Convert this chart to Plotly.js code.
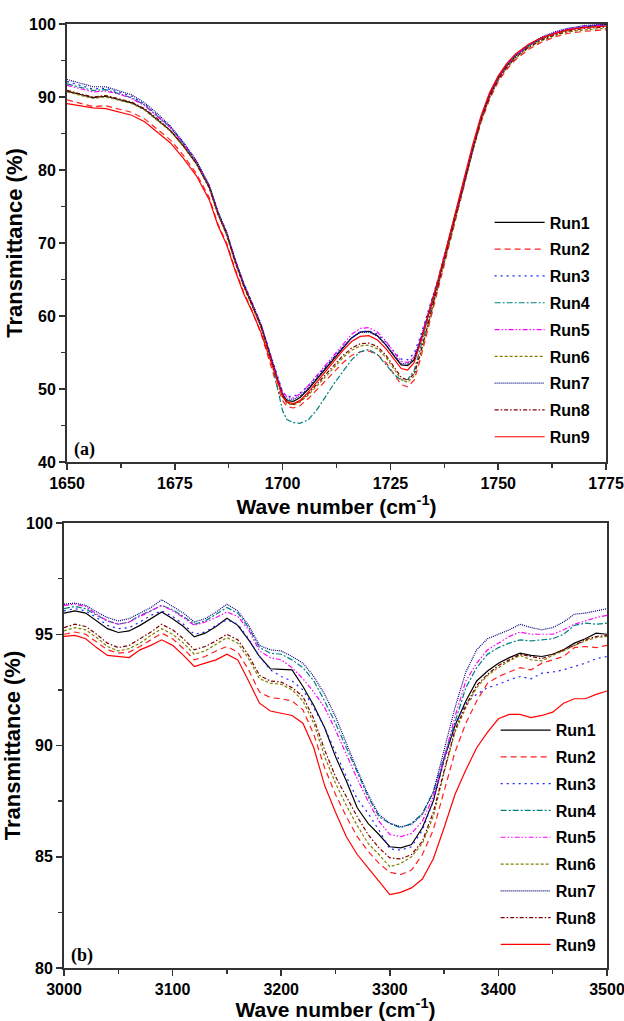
<!DOCTYPE html>
<html>
<head>
<meta charset="utf-8">
<script src="https://cdn.plot.ly/plotly-3.0.1.min.js"></script>
<style>html,body{margin:0;padding:0;background:#fff}#chart{width:624px;height:1021px}</style>
</head>
<body>
<div id="chart"></div>
<script>
// ---------- Panel (a): 1650-1775 cm-1 ----------
const waveA = [1650,1653,1656,1659,1662,1665,1668,1671,1674,1677,1680,1683,1685,1687,1689,1691,1693,1695,1697,1698.5,1700,1701,1702.5,1704,1706,1708,1710,1712,1714,1716,1718,1720,1722,1724,1726,1727.5,1729,1730.5,1732,1734,1736,1738,1740,1742,1744,1746,1748,1750,1752,1754,1757,1760,1763,1766,1770,1775];
const a_run1 = [90.8,90.4,89.9,90.1,89.7,89.2,88.3,86.9,85.4,83.3,80.9,77.6,74.0,71.3,67.5,64.2,61.5,58.6,54.8,51.8,49.2,48.4,48.3,48.8,50.0,51.4,52.8,54.3,55.7,57.0,57.8,57.9,57.3,56.0,54.4,53.3,53.2,54.0,56.5,60.5,64.5,69.0,73.5,78.0,82.8,87.0,90.2,92.6,94.3,95.6,97.0,98.0,98.7,99.2,99.6,99.9];
const a_run2 = [89.6,89.2,88.7,88.8,88.4,87.9,87.0,85.6,84.1,82.0,79.5,76.2,72.6,70.0,66.4,63.2,60.6,57.6,53.8,50.8,48.4,47.6,47.4,47.7,48.7,49.9,51.1,52.4,53.6,54.6,55.1,55.2,54.7,53.6,51.9,50.6,50.3,51.2,54.2,58.8,63.4,68.2,72.9,77.6,82.4,86.5,89.7,92.1,93.8,95.1,96.5,97.5,98.2,98.7,99.0,99.2];
const a_run3 = [92.1,91.6,91.1,91.2,90.7,90.1,89.0,87.5,85.9,83.7,81.2,77.8,74.3,71.5,67.8,64.5,61.8,58.9,55.1,52.2,49.6,49.0,49.0,49.4,50.5,51.8,53.1,54.5,55.8,57.0,57.8,58.0,57.5,56.4,55.0,54.1,54.0,54.9,57.3,61.2,65.0,69.4,73.8,78.2,82.9,87.0,90.2,92.6,94.3,95.6,97.0,98.0,98.7,99.3,99.7,99.9];
const a_run4 = [91.8,91.4,90.9,91.0,90.5,89.9,88.9,87.4,85.8,83.6,81.1,77.8,74.2,71.4,67.6,64.3,61.6,58.7,54.8,51.0,47.0,45.8,45.4,45.3,45.8,47.2,49.0,50.8,52.4,54.0,55.1,55.4,54.7,53.3,51.9,51.2,51.3,52.5,55.6,59.9,64.2,68.8,73.4,78.0,82.8,87.0,90.2,92.6,94.3,95.6,97.0,98.0,98.7,99.2,99.6,99.8];
const a_run5 = [91.6,91.2,90.7,90.8,90.4,89.8,88.8,87.3,85.8,83.6,81.1,77.8,74.2,71.4,67.7,64.4,61.7,58.8,55.0,52.1,49.6,48.9,48.8,49.3,50.5,51.9,53.3,54.8,56.2,57.5,58.3,58.4,57.8,56.5,54.9,53.8,53.6,54.4,56.9,60.8,64.8,69.2,73.7,78.2,82.9,87.1,90.3,92.7,94.4,95.7,97.1,98.1,98.8,99.3,99.7,99.9];
const a_run6 = [90.7,90.3,89.8,90.0,89.6,89.1,88.2,86.8,85.3,83.2,80.8,77.5,73.9,71.1,67.3,64.0,61.3,58.4,54.6,51.5,48.9,48.0,47.8,48.2,49.2,50.4,51.7,53.0,54.3,55.3,55.9,56.0,55.5,54.3,52.6,51.3,50.9,51.8,54.8,59.3,63.8,68.5,73.2,77.8,82.6,86.7,89.9,92.3,94.0,95.3,96.7,97.7,98.4,98.9,99.2,99.4];
const a_run7 = [92.4,91.9,91.4,91.4,90.9,90.3,89.2,87.7,86.0,83.8,81.3,77.9,74.3,71.5,67.7,64.4,61.7,58.8,55.0,52.0,49.3,48.6,48.6,49.0,50.2,51.6,53.0,54.4,55.8,57.0,57.8,57.8,57.2,56.0,54.5,53.5,53.4,54.3,56.8,60.8,64.8,69.3,73.8,78.3,83.0,87.2,90.4,92.8,94.5,95.8,97.2,98.2,98.9,99.4,99.8,100.0];
const a_run8 = [90.9,90.5,90.0,90.2,89.8,89.3,88.4,87.0,85.4,83.3,80.9,77.6,74.0,71.2,67.4,64.1,61.4,58.5,54.7,51.6,49.0,48.1,47.9,48.3,49.4,50.7,52.0,53.3,54.6,55.6,56.2,56.3,55.8,54.6,52.9,51.6,51.2,52.1,55.0,59.5,64.0,68.6,73.3,77.9,82.7,86.8,90.0,92.4,94.1,95.4,96.8,97.8,98.5,99.0,99.4,99.6];
const a_run9 = [89.1,88.8,88.5,88.4,88.0,87.5,86.6,85.2,83.7,81.6,79.2,75.9,72.4,69.8,66.2,63.0,60.5,57.7,54.2,51.4,49.0,48.2,48.0,48.4,49.6,51.0,52.4,53.9,55.3,56.5,57.2,57.3,56.7,55.5,53.9,52.8,52.6,53.6,56.4,60.6,64.8,69.4,74.0,78.6,83.3,87.4,90.6,92.9,94.6,95.9,97.2,98.1,98.7,99.2,99.5,99.7];

// ---------- Panel (b): 3000-3500 cm-1 ----------
const waveB = [3000,3010,3020,3030,3040,3050,3060,3070,3080,3090,3100,3110,3120,3130,3140,3150,3160,3170,3180,3190,3200,3210,3220,3230,3240,3250,3260,3270,3280,3290,3300,3310,3320,3330,3340,3350,3360,3370,3380,3390,3400,3410,3420,3430,3440,3450,3460,3470,3480,3490,3500];
const b_run1 = [95.95,96.05,95.95,95.6,95.25,95.08,95.15,95.4,95.7,96.0,95.7,95.35,94.88,95.05,95.35,95.72,95.4,94.75,94.0,93.45,93.42,93.4,92.65,91.8,90.8,89.5,88.4,87.2,86.5,86.0,85.45,85.4,85.55,86.3,87.5,89.4,90.9,92.0,92.9,93.35,93.7,93.95,94.15,94.05,94.0,94.1,94.3,94.6,94.8,95.05,95.0];
const b_run2 = [95.0,95.1,95.0,94.65,94.3,94.15,94.2,94.45,94.75,95.05,94.8,94.35,93.85,94.0,94.25,94.45,94.2,93.4,92.4,92.15,92.1,92.0,91.6,90.5,89.0,87.8,86.8,85.9,85.25,84.7,84.3,84.2,84.4,85.1,86.2,87.9,89.7,91.0,92.0,92.8,93.1,93.3,93.5,93.4,93.7,93.85,94.0,94.4,94.45,94.4,94.5];
const b_run3 = [96.05,96.15,96.05,95.75,95.4,95.25,95.3,95.55,95.85,96.05,95.8,95.45,95.0,95.1,95.4,95.65,95.45,94.8,94.0,93.4,93.1,92.9,92.5,91.7,90.8,89.7,88.6,87.6,86.95,86.2,85.35,85.3,85.45,86.2,87.5,89.3,90.9,91.9,92.3,92.6,92.75,92.95,93.1,93.0,93.25,93.3,93.4,93.55,93.7,93.9,94.0];
const b_run4 = [96.15,96.25,96.15,95.85,95.6,95.45,95.55,95.85,96.05,96.3,96.1,95.8,95.45,95.6,95.9,96.2,95.95,95.3,94.4,94.15,94.1,93.85,93.5,92.9,92.0,91.0,89.9,88.8,87.7,86.8,86.5,86.3,86.5,86.95,87.9,89.5,91.1,92.6,93.5,94.1,94.4,94.6,94.75,94.7,94.75,94.8,95.0,95.4,95.5,95.45,95.5];
const b_run5 = [96.3,96.35,96.25,95.9,95.6,95.45,95.55,95.8,96.05,96.3,96.05,95.75,95.4,95.55,95.75,96.0,95.8,95.2,94.25,93.95,93.85,93.5,93.0,92.4,91.7,90.7,89.6,88.5,87.5,86.6,86.0,85.9,86.05,86.6,87.7,89.4,91.3,92.9,93.7,94.3,94.6,94.9,95.1,95.0,95.0,95.0,95.2,95.45,95.6,95.75,95.85];
const b_run6 = [95.15,95.3,95.2,94.85,94.45,94.25,94.35,94.6,94.95,95.25,95.0,94.6,94.1,94.25,94.55,94.85,94.6,93.9,93.0,92.8,92.75,92.5,92.0,91.0,89.5,88.3,87.3,86.4,85.6,85.1,84.55,84.7,85.0,85.6,86.8,88.8,90.6,91.7,92.6,93.15,93.5,93.8,94.05,93.85,93.8,94.05,94.25,94.5,94.7,94.85,94.9];
const b_run7 = [96.35,96.4,96.3,96.0,95.75,95.6,95.7,95.95,96.2,96.55,96.25,95.95,95.55,95.7,96.0,96.35,96.05,95.4,94.5,94.3,94.25,94.0,93.7,93.1,92.3,91.3,90.1,88.9,87.8,86.9,86.5,86.35,86.45,86.9,87.9,89.8,91.7,93.3,94.3,94.8,95.0,95.2,95.45,95.3,95.2,95.3,95.55,95.9,95.95,96.05,96.15];
const b_run8 = [95.3,95.45,95.35,95.0,94.6,94.4,94.5,94.8,95.1,95.45,95.2,94.8,94.3,94.45,94.7,95.0,94.75,94.05,93.15,92.9,92.85,92.6,92.2,91.2,89.8,88.6,87.7,86.8,86.0,85.4,84.95,84.9,85.1,85.7,87.0,88.9,90.7,91.8,92.7,93.2,93.6,93.85,94.1,94.0,93.9,94.1,94.3,94.5,94.75,94.9,94.95];
const b_run9 = [94.9,94.95,94.8,94.4,94.05,94.0,93.95,94.3,94.5,94.75,94.5,94.05,93.55,93.7,93.85,94.1,93.85,92.9,91.9,91.55,91.45,91.35,91.0,89.9,88.2,87.0,85.9,85.1,84.5,83.9,83.3,83.4,83.6,84.0,84.9,86.3,87.8,88.9,89.9,90.6,91.2,91.4,91.4,91.25,91.35,91.5,91.9,92.1,92.1,92.3,92.45];

const runNames = ["Run1","Run2","Run3","Run4","Run5","Run6","Run7","Run8","Run9"];
const seriesA = [a_run1,a_run2,a_run3,a_run4,a_run5,a_run6,a_run7,a_run8,a_run9];
const seriesB = [b_run1,b_run2,b_run3,b_run4,b_run5,b_run6,b_run7,b_run8,b_run9];

// styles (not data)
const styles = [
  {color:"#000000", dash:"solid"},
  {color:"#ff2020", dash:"6px,4px"},
  {color:"#2020ff", dash:"2px,4px"},
  {color:"#008080", dash:"6px,2px,2px,2px"},
  {color:"#ff00ff", dash:"5px,2px,1.5px,2px,1.5px,2px"},
  {color:"#808000", dash:"3px,2px"},
  {color:"#000080", dash:"1px,1px"},
  {color:"#800000", dash:"4px,2px,1.5px,2px"},
  {color:"#ff0000", dash:"solid"}
];

const traces = [];
runNames.forEach((name,i)=>{
  traces.push({type:"scatter",mode:"lines",name:name,x:waveA,y:seriesA[i],xaxis:"x",yaxis:"y",
    legend:"legend",legendgroup:"a"+i,line:{color:styles[i].color,dash:styles[i].dash,width:1.2}});
});
runNames.forEach((name,i)=>{
  traces.push({type:"scatter",mode:"lines",name:name,x:waveB,y:seriesB[i],xaxis:"x2",yaxis:"y2",
    legend:"legend2",legendgroup:"b"+i,line:{color:styles[i].color,dash:styles[i].dash,width:1.2}});
});

const FF = "Liberation Sans, Arial, sans-serif";
const tickFont = {family:FF,size:16,color:"#000",weight:"bold"};
const axTitleFont = {family:FF,size:21,color:"#000",weight:"bold"};
const yTitleFont = {family:FF,size:22,color:"#000",weight:"bold"};
const axisCommon = {showline:true,mirror:true,linecolor:"#333",linewidth:2,ticks:"outside",ticklen:6,tickwidth:1.5,tickcolor:"#333",
  showgrid:false,zeroline:false,tickfont:tickFont,fixedrange:true,ticklabeloverflow:"allow"};
const legendFont = {family:FF,size:16,color:"#000",weight:"bold"};

const layout = {
  width:624,height:1021,
  margin:{l:60,r:16,t:22,b:53},
  paper_bgcolor:"#fff",plot_bgcolor:"#fff",
  showlegend:true,
  xaxis:Object.assign({},axisCommon,{domain:[0.0128,0.9964],range:[1650,1775],dtick:25,tick0:1650,anchor:"y",
    minor:{dtick:12.5,ticklen:4,tickcolor:"#333",ticks:"outside"},
    title:{text:"Wave number (cm<sup>-1</sup>)",font:axTitleFont,standoff:2}}),
  yaxis:Object.assign({},axisCommon,{domain:[0.5349,0.9979],range:[40,100],dtick:10,anchor:"x",
    minor:{dtick:5,ticklen:4,tickcolor:"#333",ticks:"outside"},
    title:{text:"Transmittance (%)",font:yTitleFont,standoff:0}}),
  xaxis2:Object.assign({},axisCommon,{domain:[0.0073,0.9982],range:[3000,3500],dtick:100,tick0:3000,anchor:"y2",
    minor:{dtick:50,ticklen:4,tickcolor:"#333",ticks:"outside"},
    title:{text:"Wave number (cm<sup>-1</sup>)",font:axTitleFont,standoff:2}}),
  yaxis2:Object.assign({},axisCommon,{domain:[0,0.4704],range:[80,100],dtick:5,anchor:"x2",
    minor:{dtick:2.5,ticklen:4,tickcolor:"#333",ticks:"outside"},
    title:{text:"Transmittance (%)",font:yTitleFont,standoff:0}}),
  legend:{x:0.784,y:0.8061,xref:"paper",yref:"paper",xanchor:"left",yanchor:"top",bgcolor:"rgba(0,0,0,0)",
    font:legendFont,traceorder:"grouped",tracegroupgap:3,itemwidth:50},
  legend2:{x:0.795,y:0.2694,xref:"paper",yref:"paper",xanchor:"left",yanchor:"top",bgcolor:"rgba(0,0,0,0)",
    font:legendFont,traceorder:"grouped",tracegroupgap:3,itemwidth:50},
  annotations:[
    {text:"(a)",xref:"x domain",yref:"y domain",x:0.01,y:0.0,xanchor:"left",yanchor:"bottom",showarrow:false,
     font:{family:"Liberation Serif, Times New Roman, serif",size:18,color:"#000",weight:"bold"}},
    {text:"(b)",xref:"x2 domain",yref:"y2 domain",x:0.01,y:0.0,xanchor:"left",yanchor:"bottom",showarrow:false,
     font:{family:"Liberation Serif, Times New Roman, serif",size:18,color:"#000",weight:"bold"}}
  ]
};

Plotly.newPlot("chart",traces,layout,{displayModeBar:false,staticPlot:true});
</script>
</body>
</html>
